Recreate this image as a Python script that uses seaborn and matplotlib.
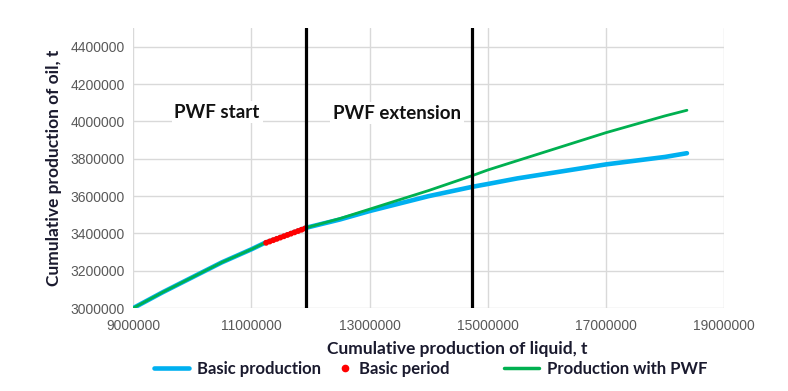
import pandas as pd
import numpy as np
import seaborn as sns
import matplotlib.pyplot as plt
from matplotlib.lines import Line2D

# Cumulative liquid production (t) and oil production (t)
liquid = [9000000, 9500000, 10000000, 10500000, 11000000, 11230000, 11500000, 11920000,
          12500000, 13000000, 13500000, 14000000, 14740000, 15000000, 15500000, 16000000,
          16500000, 17000000, 17500000, 18000000, 18370000]
oil_pwf = [3000000, 3085000, 3165000, 3245000, 3315000, 3350000, 3380000, 3430000,
           3480000, 3530000, 3580000, 3630000, 3710000, 3740000, 3790000, 3840000,
           3890000, 3940000, 3985000, 4030000, 4060000]
oil_basic = [3000000, 3085000, 3165000, 3245000, 3315000, 3350000, 3380000, 3430000,
             3475000, 3520000, 3560000, 3600000, 3650000, 3665000, 3695000, 3720000,
             3745000, 3770000, 3790000, 3810000, 3830000]

# Basic period (red dots)
period_liquid = [11250000, 11310000, 11370000, 11430000, 11490000, 11550000,
                 11610000, 11670000, 11730000, 11790000, 11850000, 11910000]
period_oil = [3350000, 3357000, 3364000, 3371000, 3378000, 3385000,
              3392000, 3399000, 3406000, 3413000, 3420000, 3427000]

# Boundaries of PWF start / extension
boundaries = [11920000, 14740000]

df = pd.DataFrame({'liquid': liquid, 'basic': oil_basic, 'pwf': oil_pwf})
df_period = pd.DataFrame({'liquid': period_liquid, 'oil': period_oil})

sns.set_style('whitegrid')
plt.rcParams['font.family'] = ['Liberation Sans', 'DejaVu Sans']

fig = plt.figure(figsize=(7.88, 3.91), dpi=100)
ax = fig.add_axes([0.169, 0.212, 0.75, 0.716])

blue = '#00B0F0'
green = '#00B050'
red = '#FF0000'
text_col = '#1a1a2e'
bold_fam = ['Lato', 'DejaVu Sans']

sns.lineplot(data=df, x='liquid', y='basic', color=blue, linewidth=3.3, ax=ax, zorder=2)
sns.lineplot(data=df, x='liquid', y='pwf', color=green, linewidth=2.0, ax=ax, zorder=3)
sns.scatterplot(data=df_period, x='liquid', y='oil', color=red, s=18, edgecolor='none',
                ax=ax, zorder=4)

for b in boundaries:
    ax.axvline(b, color='black', linewidth=2.3, zorder=5)

ax.set_xlim(9000000, 19000000)
ax.set_ylim(3000000, 4500000)
ax.set_xticks(np.arange(9000000, 19000001, 2000000))
ax.set_yticks(np.arange(3000000, 4400001, 200000))
ax.ticklabel_format(style='plain', useOffset=False)
ax.tick_params(axis='both', colors='#595959', labelsize=10, length=0)
ax.tick_params(axis='x', pad=8)
ax.tick_params(axis='y', pad=6)
ax.grid(True, color='#d9d9d9', linewidth=1.0)
for s in ax.spines.values():
    s.set_visible(False)

label_font = dict(family=bold_fam, fontweight='bold', fontsize=12.5, color=text_col)
ax.set_xlabel('Cumulative production of liquid, t', **label_font)
ax.set_ylabel('Cumulative production of oil, t', labelpad=6, **label_font)
ax.xaxis.set_label_coords(0.548, -0.118)

box = dict(facecolor='white', edgecolor='none', pad=2)
ax.text(10420000, 4050000, 'PWF start', fontsize=13.5, fontweight='bold',
        family=bold_fam, color='#111111', ha='center', va='center', bbox=box, zorder=6)
ax.text(13460000, 4045000, 'PWF extension', fontsize=13.5, fontweight='bold',
        family=bold_fam, color='#111111', ha='center', va='center', bbox=box, zorder=6)

# Legend entries placed one by one, like the spreadsheet legend
entries = [
    (Line2D([0], [0], color=blue, linewidth=3.3), 'Basic production', 0.195, 2.1),
    (Line2D([0], [0], color=red, marker='o', linestyle='none', markersize=4.5),
     'Basic period', 0.432, 0.6),
    (Line2D([0], [0], color=green, linewidth=2.5), 'Production with PWF', 0.639, 2.1),
]
for handle, label, xpos, hl in entries:
    leg = fig.legend(handles=[handle], labels=[label], loc='center left',
                     bbox_to_anchor=(xpos, 0.057), frameon=False, handlelength=hl,
                     handletextpad=0.5, borderpad=0, borderaxespad=0,
                     prop=dict(family=bold_fam, weight='bold', size=12))
    leg.get_texts()[0].set_color(text_col)

fig.savefig('out.png', dpi=100, facecolor='white')
